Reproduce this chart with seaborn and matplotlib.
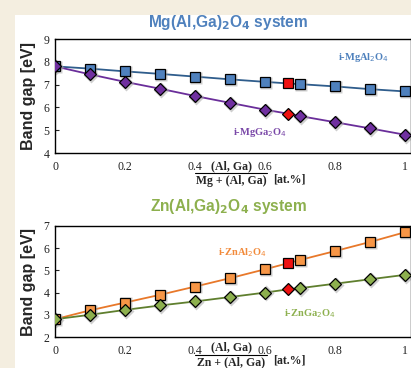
import numpy as np
import pandas as pd
import matplotlib
matplotlib.use('Agg')
import matplotlib.pyplot as plt
from matplotlib.patches import Rectangle
from matplotlib.lines import Line2D
import seaborn as sns

# composition (Al,Ga)/(M+(Al,Ga)), red point = 2/3
x_frac = [0.0, 0.1, 0.2, 0.3, 0.4, 0.5, 0.6, 0.667, 0.7, 0.8, 0.9, 1.0]
red_idx = 7

mg_al = [7.80, 7.70, 7.58, 7.47, 7.35, 7.23, 7.12, 7.05, 7.02, 6.92, 6.80, 6.70]
mg_ga = [7.80, 7.45, 7.12, 6.82, 6.50, 6.20, 5.90, 5.72, 5.62, 5.35, 5.08, 4.80]
zn_al = [2.80, 3.20, 3.55, 3.90, 4.27, 4.65, 5.05, 5.33, 5.47, 5.87, 6.28, 6.72]
zn_ga = [2.80, 3.00, 3.22, 3.42, 3.60, 3.80, 4.00, 4.15, 4.20, 4.40, 4.60, 4.80]

sns.set_theme(style='white')
plt.rcParams['font.family'] = ['Liberation Serif', 'DejaVu Serif']

fig = plt.figure(figsize=(4.11, 3.68), dpi=100)
fig.patch.set_facecolor('#f4eee0')
fig.patches.append(Rectangle((15/411, 0), 1, (368-15)/368, transform=fig.transFigure,
                             facecolor='white', edgecolor='none', zorder=-5))

W, H = 411, 368
def axes_box(left, top, right, bottom):
    return [left/W, 1 - bottom/H, (right-left)/W, (bottom-top)/H]

ax1 = fig.add_axes(axes_box(55, 39, 411, 153))
ax2 = fig.add_axes(axes_box(55, 226, 411, 337))
ax1.set_zorder(2)
ax2.set_zorder(2)

def draw_series(ax, y, face, line, marker, ms):
    df = pd.DataFrame({'x': x_frac, 'y': y})
    sns.lineplot(data=df, x='x', y='y', color=line, lw=1.3, ax=ax, zorder=2)
    normal = df.drop(index=red_idx)
    # soft grey shadow under markers
    ax.plot(normal['x'] + 0.004, normal['y'] - 0.04, ls='none', marker=marker, ms=ms + 1.2,
            color='#a0a0a0', mec='none', alpha=0.5, zorder=2.5)
    ax.plot(normal['x'], normal['y'], ls='none', marker=marker, ms=ms,
            mfc=face, mec='black', mew=0.9, zorder=3)
    ax.plot(df['x'][red_idx], df['y'][red_idx], ls='none', marker=marker, ms=ms,
            mfc='#ee1111', mec='black', mew=0.9, zorder=3)

draw_series(ax1, mg_al, '#4f81bd', '#2f5d8c', 's', 7.2)
draw_series(ax1, mg_ga, '#7030a0', '#6a2e9a', 'D', 6.5)
draw_series(ax2, zn_al, '#f79646', '#e8782a', 's', 7.2)
draw_series(ax2, zn_ga, '#8db04e', '#5f7f2e', 'D', 6.5)

for ax, ylim in [(ax1, (4, 9)), (ax2, (2, 7))]:
    ax.set_xlim(0, 1.017)
    ax.set_ylim(*ylim)
    ax.set_yticks(np.arange(ylim[0], ylim[1] + 1))
    ax.set_xticks([0, 0.2, 0.4, 0.6, 0.8, 1.0])
    ax.set_xticklabels(['0', '0.2', '0.4', '0.6', '0.8', '1'])
    ax.tick_params(axis='x', length=0, pad=6, labelsize=8.5, colors='#222222')
    ax.tick_params(axis='y', direction='in', length=3, width=0.8, pad=4, labelsize=8.5,
                   colors='#222222', left=True)
    for s in ax.spines.values():
        s.set_color('black')
        s.set_linewidth(1.0)
    ax.set_xlabel('')
    ax.set_ylabel('Band gap [eV]', family=['Liberation Sans', 'DejaVu Sans'],
                  fontweight='bold', fontsize=11.5, labelpad=5)
    ax.grid(False)

def frac_label(ax, metal, shift=0.0):
    kw = dict(transform=ax.get_xaxis_transform(), ha='center', va='center',
              fontsize=8.5, fontweight='bold', clip_on=False)
    ax.text(0.503, -0.115 + shift, '(Al, Ga)', **kw)
    ax.text(0.503, -0.245 + shift, metal + ' + (Al, Ga)', **kw)
    ax.text(0.67, -0.23 + shift, '[at.%]', **kw)
    ax.add_line(Line2D([0.40, 0.605], [-0.178 + shift, -0.178 + shift],
                       transform=ax.get_xaxis_transform(),
                       color='black', lw=0.8, clip_on=False))

frac_label(ax1, 'Mg')
frac_label(ax2, 'Zn', shift=0.02)

lab = dict(fontsize=7.5, fontweight='bold', ha='center', va='center')
ax1.text(0.88, 8.17, r'i-MgAl$_2$O$_4$', color='#4f81bd', **lab)
ax1.text(0.586, 4.88, r'i-MgGa$_2$O$_4$', color='#7a48a8', **lab)
ax2.text(0.534, 5.78, r'i-ZnAl$_2$O$_4$', color='#f28a3a', **lab)
ax2.text(0.729, 3.04, r'i-ZnGa$_2$O$_4$', color='#8db04e', **lab)

title_kw = dict(ha='center', va='center', fontsize=11.2, fontweight='bold',
                family=['Liberation Sans', 'DejaVu Sans'])
fig.text(228/W, 1 - 22/H, r'Mg(Al,Ga)$_\mathbf{2}$O$_\mathbf{4}$ system', color='#4f81bd', **title_kw)
fig.text(228/W, 1 - 207/H, r'Zn(Al,Ga)$_\mathbf{2}$O$_\mathbf{4}$ system', color='#8db04e', **title_kw)

fig.savefig('out.png', dpi=100)
